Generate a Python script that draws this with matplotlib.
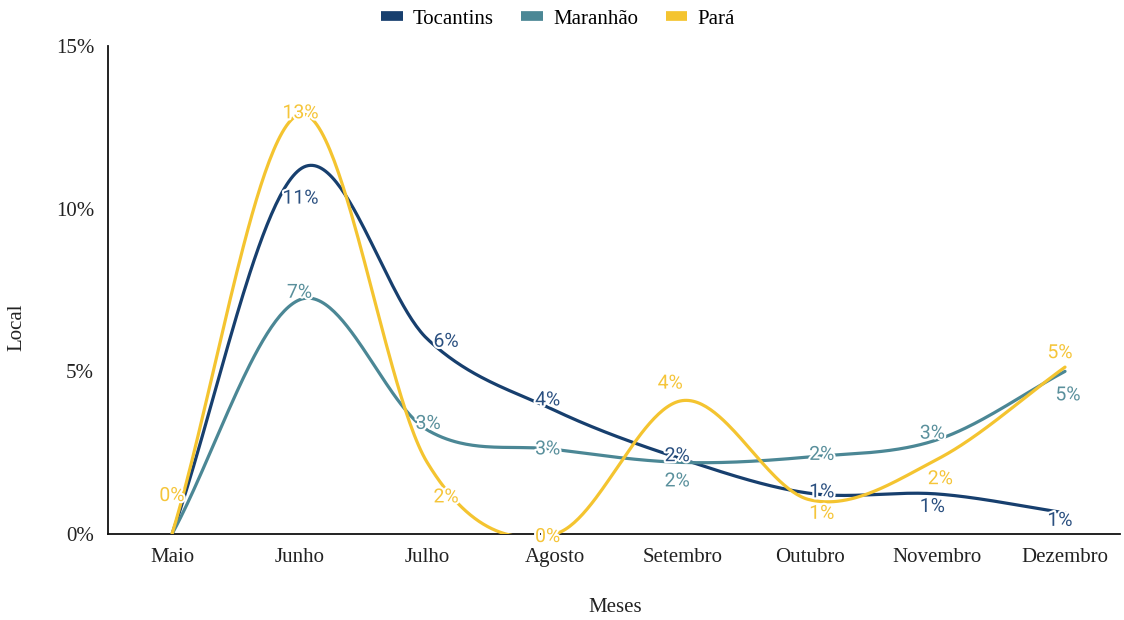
import matplotlib
matplotlib.use("Agg")
import matplotlib.pyplot as plt
import matplotlib.patheffects as pe
from matplotlib.lines import Line2D
from matplotlib.ticker import FuncFormatter
import numpy as np

# ── data (percent) ────────────────────────────────────────────────────────────
meses = ["Maio", "Junho", "Julho", "Agosto", "Setembro", "Outubro", "Novembro", "Dezembro"]
tocantins = [0.0, 11.2, 6.0, 3.8, 2.3, 1.25, 1.23, 0.65]
maranhao  = [0.0, 7.2, 3.2, 2.6, 2.2, 2.37, 2.9, 5.0]
para      = [0.0, 12.9, 2.2, 0.0, 4.1, 1.05, 2.3, 5.13]

# ── styling ──────────────────────────────────────────────────────────────────
COLORS = {"Tocantins": "#173f6e", "Maranhão": "#4b8795", "Pará": "#f4c430"}
LABEL_COLORS = {"Tocantins": "#2b5080", "Maranhão": "#5a909c", "Pará": "#f5c53a"}
SERIF = "Liberation Serif"

# label offsets in pixels (dx, dy up); None = label hidden
OFFSETS = {
    "Tocantins": [None, (1, -29), (19, -3), (-7, 10), (-5, 3), (12, 1), (-5, -13), (-5, -8)],
    "Maranhão":  [None, (0, 7), (1, 6), (-7, 0), (-5, -19), (12, 2), (-5, 6), (3, -24)],
    "Pará":      [(0, 38), (1, 1), (19, -35), (-7, -3), (-12, 17), (12, -14), (3, -20), (-5, 14)],
}


def cardinal(y, k=0.5, n=60):
    """Cardinal (Catmull-Rom) spline through equally spaced points."""
    y = np.asarray(y, float)
    m = np.zeros_like(y)
    m[1:-1] = k * (y[2:] - y[:-2])
    m[0] = y[1] - y[0]
    m[-1] = y[-1] - y[-2]
    xs, ys = [], []
    t = np.linspace(0, 1, n)
    h00 = 2 * t**3 - 3 * t**2 + 1
    h10 = t**3 - 2 * t**2 + t
    h01 = -2 * t**3 + 3 * t**2
    h11 = t**3 - t**2
    for i in range(len(y) - 1):
        xs.append(i + t)
        ys.append(h00 * y[i] + h10 * m[i] + h01 * y[i + 1] + h11 * m[i + 1])
    return np.concatenate(xs), np.concatenate(ys)


fig = plt.figure(figsize=(11.24, 6.2), dpi=100)
ax = fig.add_axes([108 / 1124, 1 - 534 / 620, (1120 - 108) / 1124, (534 - 46) / 620])

series = {"Tocantins": tocantins, "Maranhão": maranhao, "Pará": para}
x = np.arange(len(meses))
for name, vals in series.items():
    sx, sy = cardinal(vals)
    ax.plot(sx, sy, color=COLORS[name], lw=2.3, solid_capstyle="round", zorder=3)

for name, vals in series.items():
    for i, v in enumerate(vals):
        off = OFFSETS[name][i]
        if off is None:
            continue
        ax.annotate(f"{round(v + 1e-9):.0f}%", (x[i], v), xytext=off, textcoords="offset pixels",
                    ha="center", va="center", fontsize=14, family="Roboto",
                    color=LABEL_COLORS[name], zorder=5, annotation_clip=False,
                    path_effects=[pe.withStroke(linewidth=3, foreground="white")])

ax.set_xlim(-0.502, 7.431)
ax.set_ylim(0, 15)
ax.set_yticks([0, 5, 10, 15])
ax.yaxis.set_major_formatter(FuncFormatter(lambda v, p: f"{v:.0f}%"))
ax.set_xticks(x)
ax.set_xticklabels(meses)
ax.tick_params(length=0, pad=10, labelsize=15)
for lab in ax.get_xticklabels() + ax.get_yticklabels():
    lab.set_family(SERIF)
    lab.set_color("#222222")

for s in ["top", "right"]:
    ax.spines[s].set_visible(False)
for s in ["left", "bottom"]:
    ax.spines[s].set_linewidth(1.3)
    ax.spines[s].set_color("#111111")

fig.text(615 / 1124, 1 - 608 / 620, "Meses", ha="center", va="center",
         family=SERIF, fontsize=15, color="#222222")
fig.text(17 / 1124, 1 - 327 / 620, "Local", ha="center", va="center", rotation=90,
         family=SERIF, fontsize=15, color="#222222")

handles = [Line2D([], [], color=COLORS[n], lw=7, solid_capstyle="butt", label=n) for n in series]
fig.legend(handles=handles, loc="center", bbox_to_anchor=(558 / 1124, 1 - 19 / 620), ncol=3,
           frameon=False, prop={"family": SERIF, "size": 15}, handlelength=1.05,
           handletextpad=0.5, columnspacing=1.3)

fig.savefig("out.png", dpi=100)
